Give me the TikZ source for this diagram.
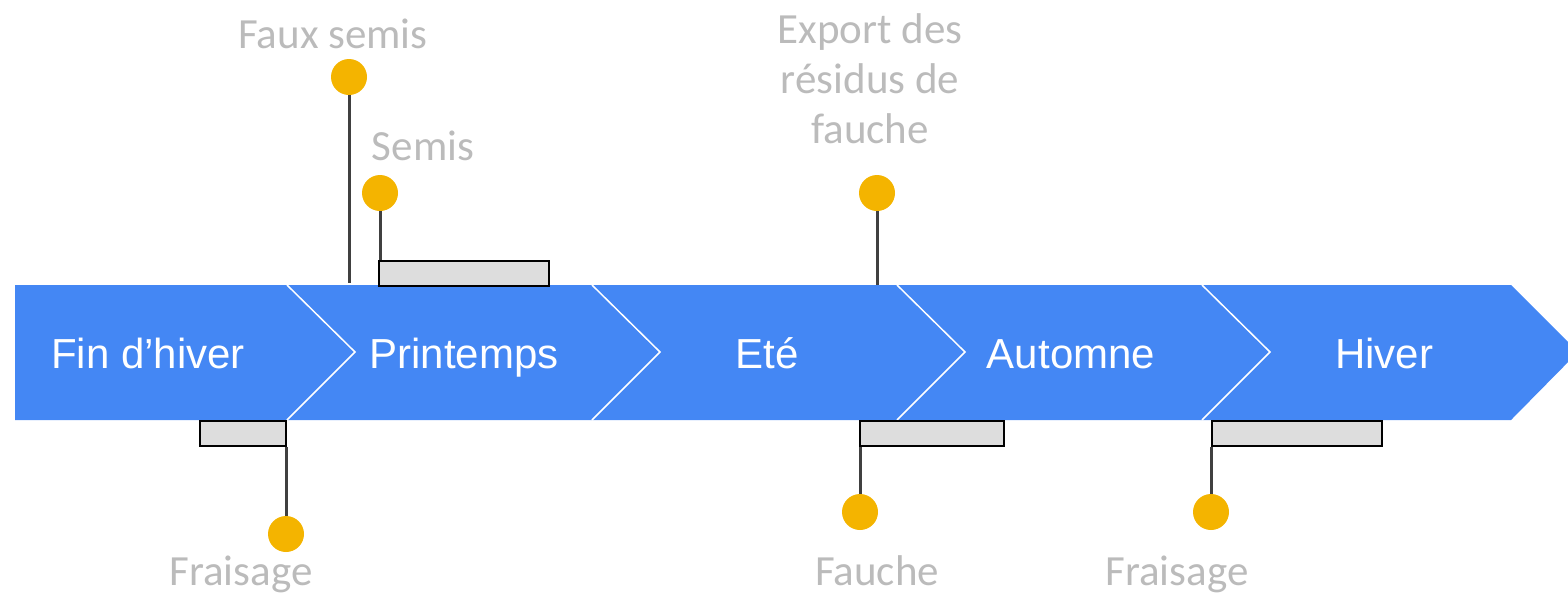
\documentclass[tikz,border=0pt]{standalone}
\usepackage{fontspec}
\setmainfont{Carlito}
\newfontfamily\seasonfont{Liberation Sans}
\usetikzlibrary{positioning}
\definecolor{bandblue}{HTML}{4487F4}
\definecolor{dotyellow}{HTML}{F4B400}
\definecolor{lblgray}{HTML}{BBBBBB}
\definecolor{stemgray}{HTML}{404040}
\definecolor{boxgray}{HTML}{DDDDDD}
\tikzset{
  dot/.style={circle,fill=dotyellow,inner sep=0pt,minimum size=36pt},
  flagbox/.style={draw=black,line width=2pt,fill=boxgray,inner sep=0pt,minimum height=25pt},
  stem/.style={draw=stemgray,line width=3pt},
  lbl/.style={text=lblgray,font=\fontsize{43}{50}\selectfont,anchor=base,inner sep=0pt,align=center},
  season/.style={text=white,font=\seasonfont\fontsize{42}{50}\selectfont,anchor=base,inner sep=0pt}
}
\begin{document}
\begin{tikzpicture}[x=1pt,y=-1pt]
              \useasboundingbox (0,0) rectangle (1568,595);
              \clip (0,0) rectangle (1568,595);
              % band
              \fill[bandblue] (15,285) -- (1511,285) -- (1578,352) -- (1511,420) -- (15,420) -- cycle;
              \foreach \x in {287,592,897,1202}
                \draw[white,line width=1.5pt] (\x,285) -- (\x+68,352) -- (\x,420);
              \node[season](fin)at(148,368){Fin d’hiver};
              \node[season](printemps)at(464,368){Printemps};
              \node[season](ete)at(767,368){Eté};
              \node[season](automne)at(1071,368){Automne};
              \node[season](hiver)at(1384,368){Hiver};
              % boxes
              \node[flagbox,minimum width=170pt](semisbox)at(464,273){};
              \node[flagbox,minimum width=86pt](fraisbox1)at(242.5,433){};
              \node[flagbox,minimum width=144pt](fauchebox)at(931.5,433){};
              \node[flagbox,minimum width=170pt](fraisbox2)at(1297,433){};
              % dots
              \node[dot](fauxdot)at(349,77){};
              \node[dot](semisdot)at(380,193){};
              \node[dot](exportdot)at(877,193){};
              \node[dot](fraisdot1)at(286,534){};
              \node[dot](fauchedot)at(860,512){};
              \node[dot](fraisdot2)at(1211,512){};
              % stems
              \coordinate (fauxend) at (349,283);
              \coordinate (exportend) at (877,285);
              \draw[stem] (fauxdot) -- (fauxend);
              \draw[stem] (semisdot) -- (semisdot |- semisbox.north);
              \draw[stem] (exportdot) -- (exportend);
              \draw[stem] (fraisdot1) -- (fraisdot1 |- fraisbox1.south);
              \draw[stem] (fauchedot) -- (fauchedot |- fauchebox.south);
              \draw[stem] (fraisdot2) -- (fraisdot2 |- fraisbox2.south);
              % labels
              \node[lbl](faux)at(333,48){Faux semis};
              \node[lbl](semis)at(423,160){Semis};
              \node[lbl](export)at(870,143){Export des\\résidus de\\fauche};
              \node[lbl](frais1)at(241,585){Fraisage};
              \node[lbl](fauche)at(877,585){Fauche};
              \node[lbl](frais2)at(1177,585){Fraisage};
            \end{tikzpicture}
\end{document}
